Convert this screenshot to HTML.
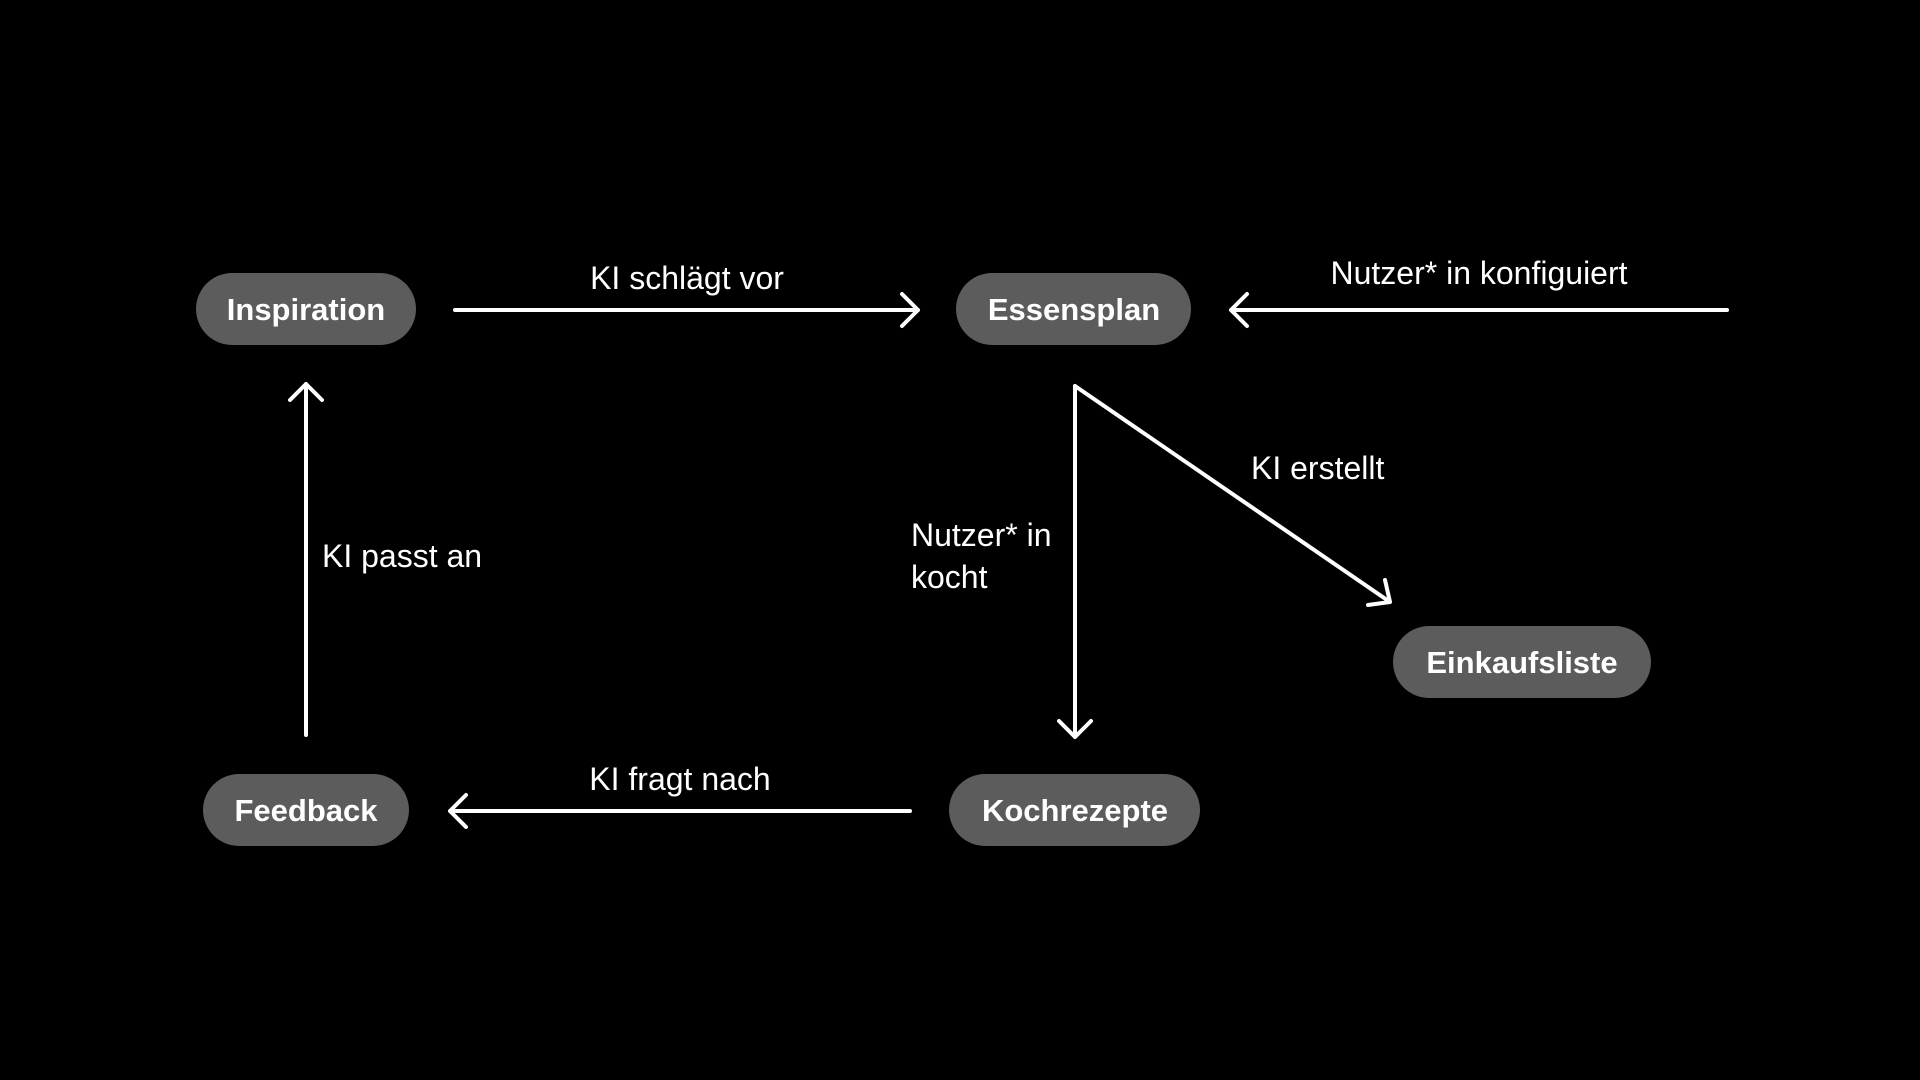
<!DOCTYPE html>
<html><head><meta charset="utf-8"><style>
html,body{margin:0;padding:0;background:#000;width:1920px;height:1080px;overflow:hidden}
svg{display:block}
text{font-family:"Liberation Sans",sans-serif;fill:#fff}
.p{font-weight:bold;font-size:31px}
.l{font-size:32px}
</style></head><body>
<svg width="1920" height="1080" viewBox="0 0 1920 1080">
<g fill="#5c5c5c">
<rect x="196" y="273" width="220" height="72" rx="36"/>
<rect x="956" y="273" width="235" height="72" rx="36"/>
<rect x="1393" y="626" width="258" height="72" rx="36"/>
<rect x="203" y="774" width="206" height="72" rx="36"/>
<rect x="949" y="774" width="251" height="72" rx="36"/>
</g>
<g class="p" text-anchor="middle">
<text x="306" y="320">Inspiration</text>
<text x="1074" y="320">Essensplan</text>
<text x="1522" y="673">Einkaufsliste</text>
<text x="306" y="821">Feedback</text>
<text x="1075" y="821">Kochrezepte</text>
</g>
<g stroke="#fff" stroke-width="4" fill="none" stroke-linecap="round" stroke-linejoin="round">
<path d="M455 310H918M902 294L918 310L902 326"/>
<path d="M1727 310H1231M1247 294L1231 310L1247 326"/>
<path d="M1075 386V737M1059 721L1075 737L1091 721"/>
<path d="M1075 386L1390 602M1368 605L1390 602L1385 580"/>
<path d="M910 811H450M466 795L450 811L466 827"/>
<path d="M306 735V384M290 400L306 384L322 400"/>
</g>
<g class="l">
<text x="687" y="289" text-anchor="middle">KI schlägt vor</text>
<text x="1479" y="284" text-anchor="middle">Nutzer* in konfiguiert</text>
<text x="1251" y="479">KI erstellt</text>
<text x="911" y="546">Nutzer* in</text>
<text x="911" y="588">kocht</text>
<text x="322" y="567">KI passt an</text>
<text x="680" y="790" text-anchor="middle">KI fragt nach</text>
</g>
</svg>
</body></html>
